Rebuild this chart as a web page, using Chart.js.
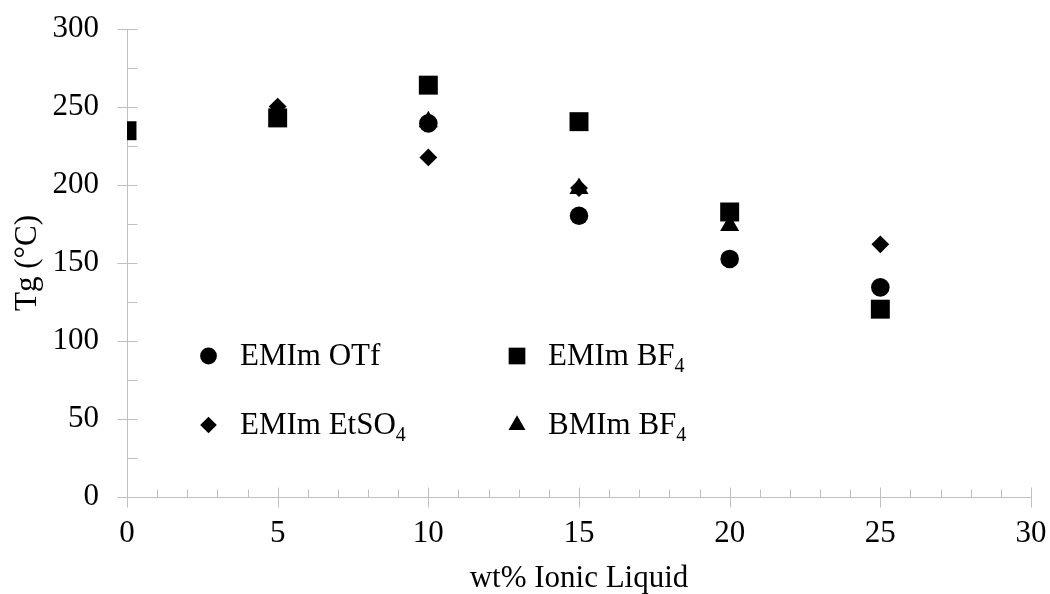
<!DOCTYPE html>
<html>
<head>
<meta charset="utf-8">
<script src="https://cdn.jsdelivr.net/npm/chart.js@4.4.1/dist/chart.umd.min.js"></script>
<style>
  html, body { margin: 0; padding: 0; background: #ffffff; }
  #wrap { width: 1050px; height: 594px; position: relative; }
</style>
</head>
<body>
<div id="wrap"><canvas id="c" width="1050" height="594"></canvas></div>
<script>
// Glass transition temperature versus ionic liquid loading
const wtPercent = [0, 5, 10, 15, 20, 25];

const emimOTf   = [null, null, 239.5, 180.3, 152.6, 134.4];
const emimBF4   = [234.8, 243, 264, 240.6, 182.7, 120.4];
const emimEtSO4 = [null, 250.3, 217.7, 198, null, 162];
const bmimBF4   = [null, null, 240.5, 197.7, 174, null];

const seriesNames = ['EMIm OTf', 'EMIm BF', 'EMIm EtSO', 'BMIm BF'];
const seriesSubscripts = ['', '4', '4', '4'];

const xTickValues = [0, 5, 10, 15, 20, 25, 30];
const yTickValues = [0, 50, 100, 150, 200, 250, 300];

const xTitle = 'wt% Ionic Liquid';
const yTitle = 'Tg (\u00B0C)';

const FONT = "'Liberation Serif', 'Times New Roman', serif";
const AXIS_GREY = '#bfbfbf';

function toPoints(values) {
  return wtPercent.map((x, i) => ({ x: x, y: values[i] })).filter(p => p.y !== null);
}

const markerStyles = [
  { pointStyle: 'circle',   radius: 9.3, legendRadius: 8.4 },
  { pointStyle: 'rect',     radius: 13.4, legendRadius: 11.8 },
  { pointStyle: 'rectRot',  radius: 8.9, legendRadius: 8.3 },
  { pointStyle: 'triangle', radius: 11, legendRadius: 9.8 }
];

const seriesValues = [emimOTf, emimBF4, emimEtSO4, bmimBF4];

const datasets = seriesValues.map((vals, i) => ({
  label: seriesNames[i] + seriesSubscripts[i],
  data: toPoints(vals),
  showLine: false,
  pointStyle: markerStyles[i].pointStyle,
  pointRadius: markerStyles[i].radius,
  pointHoverRadius: markerStyles[i].radius,
  pointBackgroundColor: '#000000',
  pointBorderColor: '#000000',
  pointBorderWidth: 0
}));

// Major ticks cross the axis line, minor ticks sit inside the plot
const tickMarks = {
  id: 'tickMarks',
  beforeDatasetsDraw(chart) {
    const ctx = chart.ctx;
    const xs = chart.scales.x, ys = chart.scales.y;
    const area = chart.chartArea;
    ctx.save();
    ctx.strokeStyle = AXIS_GREY;
    ctx.lineWidth = 1;
    ctx.beginPath();
    const yAxisX = Math.round(area.left) + 0.5;
    const xAxisY = Math.round(area.bottom) + 0.5;
    for (let v = 0; v <= 300; v += 25) {
      const py = Math.round(ys.getPixelForValue(v)) + 0.5;
      if (v % 50 === 0) {
        ctx.moveTo(yAxisX - 10, py); ctx.lineTo(yAxisX + 10, py);
      } else {
        ctx.moveTo(yAxisX, py); ctx.lineTo(yAxisX + 10, py);
      }
    }
    for (let v = 0; v <= 30; v += 1) {
      const px = Math.round(xs.getPixelForValue(v)) + 0.5;
      if (v % 5 === 0) {
        ctx.moveTo(px, xAxisY - 10); ctx.lineTo(px, xAxisY + 10);
      } else {
        ctx.moveTo(px, xAxisY - 8); ctx.lineTo(px, xAxisY);
      }
    }
    ctx.stroke();
    ctx.restore();
  }
};

// Two-column legend placed inside the plot
const legendBox = {
  id: 'legendBox',
  afterDraw(chart) {
    const ctx = chart.ctx;
    const colMarkerX = [208.5, 517];
    const colTextX = [240, 548];
    const rowMarkerY = [356, 425];
    const rowBaseline = [364.5, 434];
    ctx.save();
    ctx.fillStyle = '#000000';
    seriesNames.forEach((name, i) => {
      const col = i % 2, row = Math.floor(i / 2);
      Chart.helpers.drawPoint(ctx, {
        pointStyle: markerStyles[i].pointStyle,
        radius: markerStyles[i].legendRadius,
        rotation: 0,
        borderWidth: 0
      }, colMarkerX[col], rowMarkerY[row]);
      ctx.fillStyle = '#000000';
      ctx.textAlign = 'left';
      ctx.textBaseline = 'alphabetic';
      ctx.font = '31px ' + FONT;
      ctx.fillText(name, colTextX[col], rowBaseline[row]);
      if (seriesSubscripts[i]) {
        const w = ctx.measureText(name).width;
        ctx.font = '20px ' + FONT;
        ctx.fillText(seriesSubscripts[i], colTextX[col] + w, rowBaseline[row] + 7);
      }
    });
    ctx.restore();
  }
};

new Chart(document.getElementById('c'), {
  type: 'scatter',
  data: { datasets: datasets },
  options: {
    responsive: false,
    animation: false,
    devicePixelRatio: 1,
    layout: { padding: { top: 29, right: 19, left: 0, bottom: 0 } },
    plugins: {
      legend: { display: false },
      tooltip: { enabled: false }
    },
    scales: {
      x: {
        type: 'linear',
        min: 0, max: 30,
        afterBuildTicks(scale) { scale.ticks = xTickValues.map(v => ({ value: v })); },
        afterFit(scale) { scale.height = 97; scale.paddingLeft = 0; scale.paddingRight = 0; },
        grid: { display: false, drawTicks: false },
        border: { display: true, color: AXIS_GREY, width: 1 },
        ticks: { color: '#000000', padding: 18, font: { family: FONT, size: 31, lineHeight: 1.2 } },
        title: {
          display: true, text: xTitle, color: '#000000',
          padding: { top: 0, bottom: 0 },
          font: { family: FONT, size: 31, lineHeight: 1 }
        }
      },
      y: {
        type: 'linear',
        min: 0, max: 300,
        afterBuildTicks(scale) { scale.ticks = yTickValues.map(v => ({ value: v })); },
        afterFit(scale) { scale.width = 127; scale.paddingTop = 0; scale.paddingBottom = 0; },
        grid: { display: false, drawTicks: false },
        border: { display: true, color: AXIS_GREY, width: 1 },
        ticks: { color: '#000000', padding: 28, font: { family: FONT, size: 31, lineHeight: 1.2 } },
        title: {
          display: true, text: yTitle, color: '#000000',
          padding: { top: 12, bottom: 0 },
          font: { family: FONT, size: 31, lineHeight: 1 }
        }
      }
    }
  },
  plugins: [tickMarks, legendBox]
});
</script>
</body>
</html>
